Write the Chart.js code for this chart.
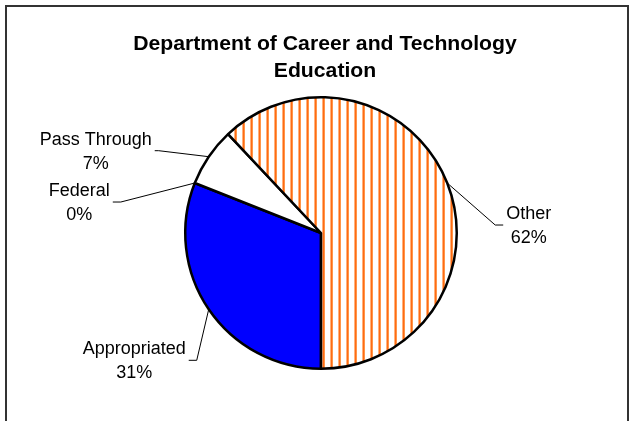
<!DOCTYPE html>
<html>
<head>
<meta charset="utf-8">
<script src="https://cdn.jsdelivr.net/npm/chart.js@4/dist/chart.umd.min.js"></script>
<style>
  html, body { margin: 0; padding: 0; background: #fff; }
  #wrap { width: 634px; height: 421px; position: relative; }
</style>
</head>
<body>
<div id="wrap"><canvas id="chart" width="634" height="421"></canvas></div>
<script>
const titleLines = ['Department of Career and Technology', 'Education'];
const categories = ['Appropriated', 'Federal', 'Pass Through', 'Other'];
const shares = [31, 0, 7, 62];

// leader line: elbow offset from the slice edge, then short horizontal run
const leaderOffsets = [[-12, 51, -8], [-74, 19, -8], [-50, -6, -4], [48, 42, 8]];

function stripePattern() {
  const c = document.createElement('canvas');
  c.width = 8; c.height = 4;
  const g = c.getContext('2d');
  g.fillStyle = '#fff'; g.fillRect(0, 0, 8, 4);
  g.fillStyle = '#ffb27a'; g.fillRect(2, 0, 1, 4);
  g.fillStyle = '#ff6a14'; g.fillRect(3, 0, 1, 4);
  g.fillStyle = '#ff9648'; g.fillRect(4, 0, 1, 4);
  return g.createPattern(c, 'repeat');
}

const frameAndLabels = {
  id: 'frameAndLabels',
  beforeDraw(chart) {
    const ctx = chart.ctx;
    ctx.save();
    ctx.fillStyle = '#333';
    ctx.fillRect(5, 5, 624, 2);
    ctx.fillRect(5, 5, 2, 421);
    ctx.fillRect(627, 5, 2, 421);
    ctx.restore();
  },
  afterDraw(chart) {
    const ctx = chart.ctx;
    ctx.save();
    // title
    ctx.fillStyle = '#000';
    ctx.textAlign = 'center';
    ctx.textBaseline = 'alphabetic';
    ctx.font = 'bold 20px "Liberation Sans", Arial, sans-serif';
    titleLines.forEach((t, i) => {
      ctx.save();
      ctx.translate(325, 50 + i * 27);
      ctx.scale(1.06, 1);
      ctx.fillText(t, 0, 0);
      ctx.restore();
    });

    const total = shares.reduce((a, b) => a + b, 0);
    const meta = chart.getDatasetMeta(0);
    ctx.font = '18px "Liberation Sans", Arial, sans-serif';
    meta.data.forEach((arc, i) => {
      const p = arc.getProps(['x', 'y', 'startAngle', 'endAngle', 'outerRadius'], true);
      const mid = (p.startAngle + p.endAngle) / 2;
      const ex = p.x + Math.cos(mid) * p.outerRadius;
      const ey = p.y + Math.sin(mid) * p.outerRadius;
      const [ox, oy, run] = leaderOffsets[i];
      const kx = ex + ox, ky = ey + oy;
      const tx = kx + run, ty = ky;

      ctx.strokeStyle = '#000';
      ctx.lineWidth = 1;
      ctx.beginPath();
      ctx.moveTo(ex, ey);
      ctx.lineTo(kx, ky);
      ctx.lineTo(tx, ty);
      ctx.stroke();

      const lines = [categories[i], Math.round(shares[i] / total * 100) + '%'];
      const w = Math.max(...lines.map(l => ctx.measureText(l).width));
      const cx = run < 0 ? tx - 3 - w / 2 : tx + 3 + w / 2;
      ctx.fillStyle = '#000';
      ctx.textAlign = 'center';
      ctx.fillText(lines[0], cx, ty - 6);
      ctx.fillText(lines[1], cx, ty + 18);
    });
    ctx.restore();
  }
};

const ctx = document.getElementById('chart').getContext('2d');
new Chart(ctx, {
  type: 'pie',
  data: {
    labels: categories,
    datasets: [{
      data: shares,
      backgroundColor: ['#0000ff', '#ffffff', '#ffffff', stripePattern()],
      borderColor: '#000',
      borderWidth: 2.5
    }]
  },
  options: {
    responsive: false,
    animation: false,
    rotation: 180,
    layout: { padding: { left: 150, right: 142, top: 96, bottom: 51 } },
    plugins: {
      legend: { display: false },
      tooltip: { enabled: false },
      title: { display: false }
    }
  },
  plugins: [frameAndLabels]
});
</script>
</body>
</html>
